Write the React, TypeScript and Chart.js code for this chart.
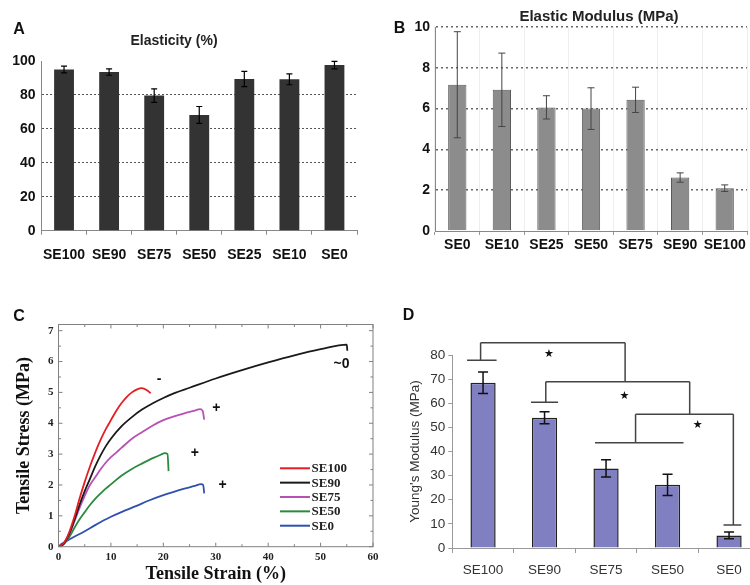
import React, { useEffect, useRef } from "react";
import { Chart, registerables } from "chart.js";
Chart.register(...registerables);

const SANS = "'Liberation Sans', Arial, sans-serif";
const SERIF = "'Liberation Serif', 'Times New Roman', serif";

// ---------------- Panel A : Elasticity (%) ----------------
const categoriesA = ["SE100", "SE90", "SE75", "SE50", "SE25", "SE10", "SE0"];
const elasticityValues = [95, 93.5, 79.6, 68.2, 89.4, 89.2, 97.6];
const elasticityErrors = [2, 1.9, 4, 5, 4.5, 3.2, 2.2];

// ---------------- Panel B : Elastic Modulus (MPa) ----------------
const categoriesB = ["SE0", "SE10", "SE25", "SE50", "SE75", "SE90", "SE100"];
const modulusValues = [7.17, 6.92, 6.06, 6.0, 6.43, 2.62, 2.1];
const modulusErrors = [2.6, 1.8, 0.57, 1.02, 0.62, 0.23, 0.16];

// ---------------- Panel C : stress-strain curves ----------------
const seriesNamesC = ["SE100", "SE90", "SE75", "SE50", "SE0"];
const seriesColorsC = ["#e31e24", "#1a1a1a", "#b850b6", "#2b8a3e", "#3050b0"];
const strainSE100 = [0, 1, 2, 3, 4, 5, 6, 7, 8, 9, 10, 11, 12, 13, 14, 15, 15.9, 16.8, 17.6];
const stressSE100 = [0, 0.12, 0.45, 0.95, 1.55, 2.1, 2.6, 3.05, 3.45, 3.8, 4.1, 4.4, 4.65, 4.85, 5.0, 5.1, 5.14, 5.08, 4.97];
const strainSE90 = [0, 1, 2, 3, 4, 5, 6, 7, 8, 9, 10, 12, 14, 16, 18, 20, 22, 25, 30, 35, 40, 45, 50, 55, 55.1];
const stressSE90 = [0, 0.1, 0.4, 0.85, 1.35, 1.8, 2.2, 2.6, 2.95, 3.25, 3.5, 3.9, 4.2, 4.45, 4.65, 4.82, 4.97, 5.15, 5.45, 5.72, 5.97, 6.2, 6.4, 6.55, 6.35];
const strainSE75 = [0, 1, 2, 3, 4, 5, 6, 7, 8, 9, 10, 11, 12, 14, 16, 18, 20, 22, 24, 26, 27, 27.5, 27.8];
const stressSE75 = [0, 0.1, 0.38, 0.8, 1.25, 1.65, 2.0, 2.25, 2.5, 2.72, 2.9, 3.05, 3.2, 3.5, 3.72, 3.93, 4.1, 4.22, 4.32, 4.41, 4.46, 4.4, 4.12];
const strainSE50 = [0, 1, 2, 3, 4, 5, 6, 7, 8, 9, 10, 12, 14, 16, 18, 19.5, 20.3, 20.8, 21];
const stressSE50 = [0, 0.08, 0.3, 0.6, 0.88, 1.12, 1.35, 1.55, 1.72, 1.88, 2.02, 2.3, 2.52, 2.7, 2.87, 2.98, 3.03, 3.0, 2.45];
const strainSE0 = [0, 0.5, 1.5, 3, 5, 7, 10, 12, 15, 17, 20, 22, 24, 26, 27.2, 27.6, 27.8];
const stressSE0 = [0, 0.08, 0.18, 0.32, 0.5, 0.7, 0.97, 1.12, 1.33, 1.48, 1.67, 1.78, 1.88, 1.97, 2.03, 2.0, 1.73];
const strainsC = [strainSE100, strainSE90, strainSE75, strainSE50, strainSE0];
const stressesC = [stressSE100, stressSE90, stressSE75, stressSE50, stressSE0];
const annotationTextsC = ["-", "~0", "+", "+", "+"];
const annotationStrainC = [19.2, 54.0, 30.1, 26.0, 31.3];
const annotationStressC = [5.42, 5.92, 4.48, 3.02, 2.0];

// ---------------- Panel D : Young's Modulus (MPa) ----------------
const categoriesD = ["SE100", "SE90", "SE75", "SE50", "SE0"];
const youngsValues = [68.5, 54, 33, 26.2, 5.2];
const youngsErrors = [4.5, 2.5, 3.6, 4.4, 1.4];
// significance bracket segments (category index, value)
const bracketX1 = [-0.04, -0.04, -0.26, 2.31, 1.02, 1.02, 0.78, 3.36, 2.48, 2.48, 1.82, 4.07, 3.91];
const bracketY1 = [85.1, 85.1, 77.8, 85.1, 68.9, 68.9, 60.4, 68.9, 55.4, 55.4, 43.6, 55.4, 9.5];
const bracketX2 = [2.31, -0.04, 0.22, 2.31, 3.36, 1.02, 1.22, 3.36, 4.07, 2.48, 3.26, 4.07, 4.2];
const bracketY2 = [85.1, 77.8, 77.8, 68.9, 68.9, 60.4, 60.4, 55.4, 55.4, 43.6, 43.6, 9.5, 9.5];
const starX = [1.07, 2.3, 3.49];
const starY = [80.4, 63, 51];

// ---------------- plugins ----------------
const errorBarPlugin = {
  id: "errorBars",
  afterDatasetsDraw(chart: any, _a: any, opts: any) {
    if (!opts || !opts.errors) return;
    const meta = chart.getDatasetMeta(0);
    const ys = chart.scales.y;
    const vals = chart.data.datasets[0].data as number[];
    const ctx = chart.ctx;
    ctx.save();
    ctx.strokeStyle = opts.color;
    ctx.lineWidth = opts.width;
    meta.data.forEach((el: any, i: number) => {
      const e = opts.errors[i];
      const v = vals[i];
      const x = el.x;
      const yt = ys.getPixelForValue(v + e);
      const yb = ys.getPixelForValue(v - e);
      ctx.beginPath();
      ctx.moveTo(x, yt); ctx.lineTo(x, yb);
      ctx.moveTo(x - opts.cap, yt); ctx.lineTo(x + opts.cap, yt);
      ctx.moveTo(x - opts.cap, yb); ctx.lineTo(x + opts.cap, yb);
      ctx.stroke();
    });
    ctx.restore();
  },
};

const textPlugin = {
  id: "texts",
  afterDraw(chart: any, _a: any, opts: any) {
    const ctx = chart.ctx;
    const items = (opts && opts.items) || [];
    for (let i = 0; i < items.length; i++) {
      const t = items[i];
      ctx.save();
      ctx.font = t.font;
      ctx.fillStyle = t.color || "#111";
      ctx.textAlign = t.align || "center";
      ctx.textBaseline = "middle";
      ctx.fillText(t.text, t.x, t.y);
      ctx.restore();
    }
  },
};

const frameTicksPlugin = {
  id: "frameTicks",
  afterDraw(chart: any, _a: any, opts: any) {
    if (!opts || !opts.enabled) return;
    const ctx = chart.ctx;
    const { left, right, top, bottom } = chart.chartArea;
    const xs = chart.scales.x;
    const ys = chart.scales.y;
    ctx.save();
    ctx.strokeStyle = opts.color;
    ctx.lineWidth = 1;
    ctx.strokeRect(left, top, right - left, bottom - top);
    ctx.beginPath();
    for (let v = xs.min; v <= xs.max + 1e-9; v += opts.xMinor) {
      const px = xs.getPixelForValue(v);
      const major = Math.abs(v / opts.xMajor - Math.round(v / opts.xMajor)) < 1e-6;
      const len = major ? 4 : 2.5;
      ctx.moveTo(px, bottom); ctx.lineTo(px, bottom - len);
      ctx.moveTo(px, top); ctx.lineTo(px, top + len);
    }
    for (let v = ys.min; v <= ys.max + 1e-9; v += opts.yMinor) {
      const py = ys.getPixelForValue(v);
      const major = Math.abs(v / opts.yMajor - Math.round(v / opts.yMajor)) < 1e-6;
      const len = major ? 4 : 2.5;
      ctx.moveTo(left, py); ctx.lineTo(left + len, py);
      ctx.moveTo(right, py); ctx.lineTo(right - len, py);
    }
    ctx.stroke();
    ctx.restore();
  },
};

const insideLegendPlugin = {
  id: "insideLegend",
  afterDraw(chart: any, _a: any, opts: any) {
    if (!opts || !opts.enabled) return;
    const ctx = chart.ctx;
    ctx.save();
    chart.data.datasets.forEach((ds: any, i: number) => {
      const y = opts.y + i * opts.rowGap;
      ctx.strokeStyle = ds.borderColor;
      ctx.lineWidth = 2;
      ctx.beginPath();
      ctx.moveTo(opts.x, y);
      ctx.lineTo(opts.x + opts.lineLen, y);
      ctx.stroke();
      ctx.font = opts.font;
      ctx.fillStyle = "#222";
      ctx.textAlign = "left";
      ctx.textBaseline = "middle";
      ctx.fillText(ds.label, opts.x + opts.lineLen + 1.5, y + 0.5);
    });
    ctx.restore();
  },
};

const dataLabelPlugin = {
  id: "dataLabels",
  afterDraw(chart: any, _a: any, opts: any) {
    if (!opts || !opts.texts) return;
    const ctx = chart.ctx;
    const xs = chart.scales.x;
    const ys = chart.scales.y;
    ctx.save();
    ctx.font = opts.font;
    ctx.fillStyle = opts.color;
    ctx.textAlign = "center";
    ctx.textBaseline = "middle";
    for (let i = 0; i < opts.texts.length; i++) {
      ctx.fillText(opts.texts[i], xs.getPixelForValue(opts.xs[i]), ys.getPixelForValue(opts.ys[i]));
    }
    ctx.restore();
  },
};

const bracketPlugin = {
  id: "brackets",
  afterDraw(chart: any, _a: any, opts: any) {
    if (!opts || !opts.x1) return;
    const ctx = chart.ctx;
    const xs = chart.scales.x;
    const ys = chart.scales.y;
    ctx.save();
    ctx.strokeStyle = opts.color;
    ctx.lineWidth = opts.width;
    ctx.beginPath();
    for (let i = 0; i < opts.x1.length; i++) {
      ctx.moveTo(xs.getPixelForValue(opts.x1[i]), ys.getPixelForValue(opts.y1[i]));
      ctx.lineTo(xs.getPixelForValue(opts.x2[i]), ys.getPixelForValue(opts.y2[i]));
    }
    ctx.stroke();
    ctx.font = opts.starFont;
    ctx.fillStyle = "#111";
    ctx.textAlign = "center";
    ctx.textBaseline = "middle";
    for (let i = 0; i < opts.sx.length; i++) {
      ctx.fillText("\u2605", xs.getPixelForValue(opts.sx[i]), ys.getPixelForValue(opts.sy[i]));
    }
    ctx.restore();
  },
};

const allPlugins = [errorBarPlugin, textPlugin, frameTicksPlugin, insideLegendPlugin, dataLabelPlugin, bracketPlugin];

const baseOptions = {
  animation: false,
  responsive: false,
  maintainAspectRatio: false,
  devicePixelRatio: 1,
  events: [],
};

function configA(): any {
  const tickFont = { family: SANS, size: 14, weight: "bold" };
  return {
    type: "bar",
    data: {
      labels: categoriesA,
      datasets: [{ data: elasticityValues, backgroundColor: "#333333", borderWidth: 0, barPercentage: 0.44, categoryPercentage: 1 }],
    },
    options: {
      ...baseOptions,
      layout: { padding: { left: 0, right: 18, top: 61, bottom: 0 } },
      scales: {
        x: {
          grid: { display: true, drawOnChartArea: false, drawTicks: true, tickLength: 4, tickColor: "#888", offset: true },
          border: { color: "#888", width: 1 },
          ticks: { font: tickFont, color: "#111", padding: 12, maxRotation: 0, autoSkip: false },
          afterFit: (s: any) => { s.height = 59.3; },
        },
        y: {
          min: 0, max: 100,
          ticks: { stepSize: 20, font: tickFont, color: "#111", padding: 6 },
          grid: {
            drawTicks: false, lineWidth: 1, borderDash: [2, 2],
            color: (c: any) => (c.tick && c.tick.value > 0 && c.tick.value < 100 ? "#555" : "rgba(0,0,0,0)"),
          },
          border: { color: "#888", dash: [2, 2] },
          afterFit: (s: any) => { s.width = 41.5; },
        },
      },
      plugins: {
        legend: { display: false }, tooltip: { enabled: false }, title: { display: false },
        errorBars: { errors: elasticityErrors, color: "#000", width: 1.2, cap: 3 },
        texts: {
          items: [
            { text: "A", x: 19, y: 30, font: `bold 16px ${SANS}`, color: "#111" },
            { text: "Elasticity (%)", x: 174, y: 41, font: `bold 14px ${SANS}`, color: "#222" },
          ],
        },
      },
    },
  };
}

function configB(): any {
  const tickFont = { family: SANS, size: 14, weight: "bold" };
  return {
    type: "bar",
    data: {
      labels: categoriesB,
      datasets: [{ data: modulusValues, backgroundColor: "#8c8c8c", borderColor: "#5a5a5a", borderWidth: 1, barPercentage: 0.41, categoryPercentage: 1 }],
    },
    options: {
      ...baseOptions,
      layout: { padding: { left: 0, right: 3, top: 27, bottom: 0 } },
      scales: {
        x: {
          grid: { display: true, drawOnChartArea: true, color: "#eeeeee", drawTicks: true, tickLength: 4, tickColor: "#999", offset: true },
          border: { color: "#888", width: 1 },
          ticks: { font: tickFont, color: "#111", padding: 2, maxRotation: 0, autoSkip: false },
          afterFit: (s: any) => { s.height = 59; },
        },
        y: {
          min: 0, max: 10,
          ticks: { stepSize: 2, font: tickFont, color: "#111", padding: 5 },
          grid: {
            drawTicks: false, lineWidth: 1.5, borderDash: [2, 3],
            color: (c: any) => (c.tick && c.tick.value > 0 ? "#666" : "rgba(0,0,0,0)"),
          },
          border: { color: "#888", dash: [2, 3] },
          afterFit: (s: any) => { s.width = 60; },
        },
      },
      plugins: {
        legend: { display: false }, tooltip: { enabled: false },
        errorBars: { errors: modulusErrors, color: "#444", width: 1, cap: 3.5 },
        texts: {
          items: [
            { text: "B", x: 24.5, y: 29, font: `bold 16px ${SANS}`, color: "#111" },
            { text: "Elastic Modulus (MPa)", x: 224, y: 17, font: `bold 15px ${SANS}`, color: "#222" },
          ],
        },
      },
    },
  };
}

function configC(): any {
  const tickFont = { family: SERIF, size: 11, weight: "bold" };
  const titleFont = { family: SERIF, size: 18, weight: "bold" };
  return {
    type: "line",
    data: {
      datasets: seriesNamesC.map((name, k) => ({
        label: name,
        data: strainsC[k].map((x, i) => ({ x, y: stressesC[k][i] })),
        borderColor: seriesColorsC[k],
        borderWidth: 1.8,
        pointRadius: 0,
        fill: false,
        cubicInterpolationMode: "monotone",
      })),
    },
    options: {
      ...baseOptions,
      layout: { padding: { left: 0, right: 17, top: 24.5, bottom: 0 } },
      scales: {
        x: {
          type: "linear", min: 0, max: 60,
          ticks: { stepSize: 10, font: tickFont, color: "#222", padding: 4, maxRotation: 0, includeBounds: false },
          grid: { display: false, drawTicks: false },
          border: { display: false },
          title: { display: true, text: "Tensile Strain (%)", font: titleFont, color: "#111", padding: 0 },
          afterFit: (s: any) => { s.height = 38.3; },
        },
        y: {
          type: "linear", min: 0, max: 7.2,
          ticks: { stepSize: 1, font: tickFont, color: "#222", padding: 5, includeBounds: false },
          grid: { display: false, drawTicks: false },
          border: { display: false },
          title: { display: true, text: "Tensile Stress (MPa)", font: titleFont, color: "#111", padding: { top: 14, bottom: 0 } },
          afterFit: (s: any) => { s.width = 58.5; },
        },
      },
      plugins: {
        legend: { display: false }, tooltip: { enabled: false },
        frameTicks: { enabled: true, color: "#808080", xMinor: 5, xMajor: 10, yMinor: 0.5, yMajor: 1 },
        insideLegend: { enabled: true, x: 280, y: 168.3, rowGap: 14.35, lineLen: 30, font: `bold 13px ${SERIF}` },
        dataLabels: { texts: annotationTextsC, xs: annotationStrainC, ys: annotationStressC, font: `bold 14px ${SANS}`, color: "#111" },
        texts: { items: [{ text: "C", x: 19, y: 17, font: `bold 16px ${SANS}`, color: "#111" }] },
      },
    },
  };
}

function configD(): any {
  const tickFont = { family: SANS, size: 13.5 };
  return {
    type: "bar",
    data: {
      labels: categoriesD,
      datasets: [{ data: youngsValues, backgroundColor: "#7f7fc2", borderColor: "#222", borderWidth: 1.5, barPercentage: 0.41, categoryPercentage: 1 }],
    },
    options: {
      ...baseOptions,
      layout: { padding: { left: 0, right: 15.2, top: 55, bottom: 0 } },
      scales: {
        x: {
          grid: { display: true, drawOnChartArea: false, drawTicks: true, tickLength: 5, tickColor: "#999", offset: true },
          border: { color: "#999", width: 1 },
          ticks: { font: tickFont, color: "#333", padding: 9, maxRotation: 0, autoSkip: false },
          afterFit: (s: any) => { s.height = 37; },
        },
        y: {
          min: 0, max: 80,
          ticks: { stepSize: 10, font: tickFont, color: "#333", padding: 3 },
          grid: { drawOnChartArea: false, drawTicks: true, tickLength: 4, tickColor: "#999" },
          border: { color: "#999", width: 1 },
          title: { display: true, text: "Young's Modulus (MPa)", font: tickFont, color: "#333", padding: { top: 32, bottom: 0 } },
          afterFit: (s: any) => { s.width = 77.3; },
        },
      },
      plugins: {
        legend: { display: false }, tooltip: { enabled: false },
        errorBars: { errors: youngsErrors, color: "#111", width: 1.5, cap: 5 },
        brackets: { x1: bracketX1, y1: bracketY1, x2: bracketX2, y2: bracketY2, sx: starX, sy: starY, color: "#444", width: 1.5, starFont: `11px 'DejaVu Sans', sans-serif` },
        texts: { items: [{ text: "D", x: 33.5, y: 16, font: `bold 16px ${SANS}`, color: "#111" }] },
      },
    },
  };
}

function Panel(props: { make: () => any; left: number; top: number; width: number; height: number }) {
  const ref = useRef<HTMLCanvasElement | null>(null);
  useEffect(() => {
    if (!ref.current) return;
    const cfg = props.make();
    cfg.plugins = allPlugins;
    const chart = new Chart(ref.current, cfg);
    return () => chart.destroy();
  }, []);
  return (
    <canvas
      ref={ref}
      width={props.width}
      height={props.height}
      style={{ position: "absolute", left: props.left, top: props.top, width: props.width, height: props.height, display: "block" }}
    />
  );
}

export default function App() {
  return (
    <div style={{ position: "fixed", left: 0, top: 0, width: 750, height: 585, overflow: "hidden", background: "#ffffff" }}>
      <Panel make={configA} left={0} top={0} width={375} height={290} />
      <Panel make={configB} left={375} top={0} width={375} height={290} />
      <Panel make={configC} left={0} top={300} width={390} height={285} />
      <Panel make={configD} left={375} top={300} width={400} height={285} />
    </div>
  );
}
